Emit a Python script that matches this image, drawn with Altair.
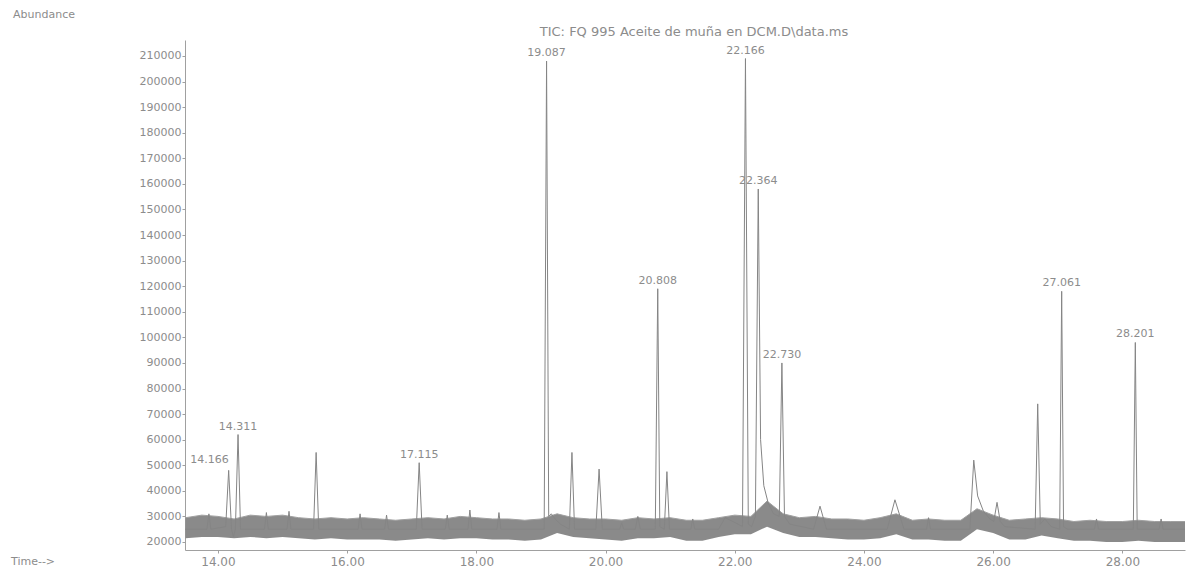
import altair as alt
import pandas as pd

# ---- chromatogram trace (retention time in min, abundance) ----
trace_time = [13.49, 13.83, 13.86, 13.89, 14.12, 14.166, 14.21, 14.24, 14.27, 14.311, 14.35,
              14.72, 14.75, 14.78, 15.07, 15.10, 15.13, 15.48, 15.52, 15.56, 16.17, 16.20, 16.23,
              16.58, 16.61, 16.64, 17.07, 17.115, 17.16, 17.52, 17.55, 17.58, 17.87, 17.90, 17.93,
              18.32, 18.35, 18.38, 19.05, 19.087, 19.12, 19.16, 19.22, 19.30, 19.44, 19.48, 19.52,
              19.85, 19.90, 19.95, 20.22, 20.25, 20.28, 20.46, 20.50, 20.54, 20.77, 20.808, 20.84,
              20.91, 20.95, 20.99, 21.32, 21.35, 21.38, 21.75, 21.85, 22.05, 22.12, 22.166, 22.21,
              22.26, 22.32, 22.364, 22.40, 22.45, 22.52, 22.60, 22.69, 22.730, 22.77, 22.85, 23.22,
              23.32, 23.42, 24.36, 24.48, 24.62, 24.97, 25.00, 25.03, 25.64, 25.70, 25.76, 25.85,
              25.95, 26.01, 26.06, 26.11, 26.18, 26.65, 26.69, 26.73, 26.80, 26.90, 27.03, 27.061,
              27.09, 27.15, 27.57, 27.60, 27.63, 28.17, 28.201, 28.23, 28.57, 28.60, 28.63, 28.97]
trace_abund = [25000, 25000, 31000, 25000, 26000, 48000, 25000, 22000, 25000, 62000, 25000,
               25000, 31500, 25000, 25000, 32000, 25000, 25000, 55000, 25000, 25000, 31000, 25000,
               25000, 30500, 25000, 25000, 51000, 25000, 25000, 30500, 25000, 25000, 32500, 25000,
               25000, 31500, 25000, 25000, 208000, 30000, 31000, 29000, 27000, 25000, 55000, 25000,
               25000, 48500, 25000, 25000, 27500, 25000, 25000, 30000, 25000, 25000, 119000, 26000,
               25000, 47500, 25000, 25000, 29000, 25000, 25000, 29500, 27000, 26000, 209000, 27000,
               26000, 30000, 158000, 60000, 42000, 35000, 31000, 30000, 90000, 30000, 27000, 25000,
               34000, 25000, 25000, 36500, 25000, 25000, 29500, 25000, 25000, 52000, 38000, 32000,
               29000, 28000, 35500, 28000, 26000, 25000, 74000, 27000, 29000, 26000, 25000, 118000,
               26000, 25000, 25000, 29000, 25000, 25000, 98000, 25000, 25000, 29000, 25000, 25000]

# ---- envelope of the baseline noise band ----
band_time = [13.50, 13.75, 14.00, 14.25, 14.50, 14.75, 15.00, 15.25, 15.50, 15.75, 16.00, 16.25,
             16.50, 16.75, 17.00, 17.25, 17.50, 17.75, 18.00, 18.25, 18.50, 18.75, 19.00, 19.25,
             19.50, 19.75, 20.00, 20.25, 20.50, 20.75, 21.00, 21.25, 21.50, 21.75, 22.00, 22.25,
             22.50, 22.75, 23.00, 23.25, 23.50, 23.75, 24.00, 24.25, 24.50, 24.75, 25.00, 25.25,
             25.50, 25.75, 26.00, 26.25, 26.50, 26.75, 27.00, 27.25, 27.50, 27.75, 28.00, 28.25,
             28.50, 28.75, 28.97]
band_high = [29500, 30500, 30000, 29000, 30500, 30000, 30500, 29500, 29000, 29500, 29000, 29500,
             29000, 28500, 29000, 29500, 29000, 30000, 29500, 29000, 29000, 28500, 29000, 31000,
             29500, 29000, 29000, 28500, 29500, 29000, 29500, 28500, 28500, 29500, 30500, 30000,
             36000, 31000, 29500, 30000, 29000, 29000, 28500, 29500, 31000, 28500, 29000, 28500,
             28500, 33000, 30500, 28500, 29000, 29500, 29000, 28000, 28500, 28000, 28000, 28500,
             28000, 28000, 28000]
band_low = [21500, 22000, 22000, 21500, 22000, 21500, 22000, 21500, 21000, 21500, 21000, 21000,
            21000, 20500, 21000, 21500, 21000, 21500, 21500, 21000, 21000, 20500, 21000, 23500,
            22000, 21500, 21000, 20500, 21500, 21500, 22000, 20500, 20500, 22000, 23000, 23000,
            26000, 23500, 22000, 22000, 21500, 21000, 21000, 21500, 23000, 21000, 21000, 20500,
            20500, 25000, 23500, 21000, 21000, 22500, 21500, 20500, 20500, 20000, 20000, 20500,
            20000, 20000, 20000]

# ---- labelled peaks ----
peak_rt = [14.166, 14.311, 17.115, 19.087, 20.808, 22.166, 22.364, 22.730, 27.061, 28.201]
peak_abund = [48000, 62000, 51000, 208000, 119000, 209000, 158000, 90000, 118000, 98000]
peak_label = ["14.166", "14.311", "17.115", "19.087", "20.808", "22.166", "22.364", "22.730",
              "27.061", "28.201"]

x_ticks = [14, 16, 18, 20, 22, 24, 26, 28]
y_ticks = list(range(20000, 210001, 10000))

title_text = "TIC: FQ 995 Aceite de muña en DCM.D\\data.ms"
y_title = "Abundance"
x_title = "Time-->"

FONT = "DejaVu Sans"
TXT = "#8c8c8c"
AX = "#a0a0a0"

trace = pd.DataFrame({"t": trace_time, "a": trace_abund})
band = pd.DataFrame({"t": band_time, "hi": band_high, "lo": band_low})
peaks = pd.DataFrame({"t": peak_rt, "a": peak_abund, "lab": peak_label})

xs = alt.Scale(domain=[13.49, 28.97], nice=False, zero=False)
ys = alt.Scale(domain=[16870, 216250], nice=False, zero=False)

x_axis = alt.Axis(values=x_ticks, format=".2f", title=None, grid=False, labelFont=FONT,
                  labelFontSize=12, labelColor=TXT, domainColor=AX, tickColor=AX, tickSize=3,
                  labelPadding=3, labelFlush=False, labelOverlap=False)
y_axis = alt.Axis(values=y_ticks, format="d", title=None, grid=False, labelFont=FONT,
                  labelFontSize=11, labelColor=TXT, domainColor=AX, tickColor=AX, tickSize=3,
                  labelPadding=1, labelOverlap=False, labelBound=False)


def X(field):
    return alt.X(field, scale=xs, axis=x_axis)


def Y(field):
    return alt.Y(field, scale=ys, axis=y_axis)


band_layer = alt.Chart(band).mark_area(color="#767676", opacity=0.85, interpolate="linear").encode(
    x=X("t:Q"), y=Y("hi:Q"), y2="lo:Q",
)

band_top = alt.Chart(band).mark_line(color="#a0a0a0", strokeWidth=1).encode(
    x=X("t:Q"), y=Y("hi:Q"),
)

line_layer = alt.Chart(trace).mark_line(color="#858585", strokeWidth=1).encode(
    x=X("t:Q"), y=Y("a:Q"),
)

labels_main = alt.Chart(peaks).transform_filter(alt.datum.lab != "14.166").mark_text(
    font=FONT, fontSize=11, color=TXT, align="center", baseline="bottom", dy=-3
).encode(x=X("t:Q"), y=Y("a:Q"), text="lab:N")

labels_left = alt.Chart(peaks).transform_filter(alt.datum.lab == "14.166").mark_text(
    font=FONT, fontSize=11, color=TXT, align="right", baseline="bottom", dy=-5, dx=0
).encode(x=X("t:Q"), y=Y("a:Q"), text="lab:N")

title_layer = alt.Chart(pd.DataFrame({"s": [title_text]})).mark_text(
    font=FONT, fontSize=13, color=TXT, align="center", baseline="middle"
).encode(text="s:N", x=alt.value(509), y=alt.value(-8))

ytitle_layer = alt.Chart(pd.DataFrame({"s": [y_title]})).mark_text(
    font=FONT, fontSize=11, color=TXT, align="left", baseline="middle"
).encode(text="s:N", x=alt.value(-172), y=alt.value(-25))

xtitle_layer = alt.Chart(pd.DataFrame({"s": [x_title]})).mark_text(
    font=FONT, fontSize=11, color=TXT, align="left", baseline="middle"
).encode(text="s:N", x=alt.value(-174), y=alt.value(522))

chart = alt.layer(
    band_layer, band_top, line_layer, labels_main, labels_left, title_layer, ytitle_layer,
    xtitle_layer
).properties(
    width=1000,
    height=510,
    padding={"left": 177, "top": 32, "right": 5, "bottom": 18},
    autosize=alt.AutoSizeParams(type="none"),
).configure_view(stroke=None).configure_axis(labelOverlap=False)

chart.save("out.html", embed_options={"renderer": "svg", "actions": False})
